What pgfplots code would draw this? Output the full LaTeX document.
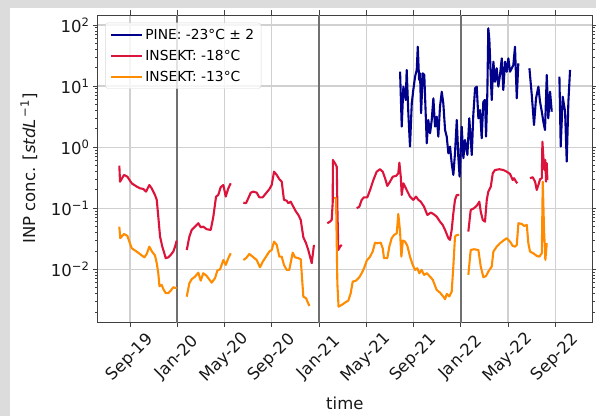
\documentclass[border=0pt]{standalone}
\usepackage{fontspec}
\setmainfont{DejaVu Sans}
\usepackage{pgfplots}
\pgfplotsset{compat=1.18}
\definecolor{pine}{HTML}{00008B}
\definecolor{insa}{HTML}{DC143C}
\definecolor{insb}{HTML}{FF8C00}
\definecolor{bgc}{HTML}{DCDCDC}
\definecolor{gridc}{HTML}{D0D0D0}
\definecolor{janc}{HTML}{707070}
\begin{document}
\begin{tikzpicture}[x=1pt,y=1pt]
\fill[bgc] (0,0) rectangle (596,416);
\fill[white] (10,0) rectangle (596,408);
\useasboundingbox (0,0) rectangle (596,416);
\begin{axis}[
  at={(97.7pt,94pt)}, anchor=south west,
  scale only axis, width=494.3pt, height=307pt,
  ymode=log,
  xmin=5.26, xmax=47.11, ymin=0.00137, ymax=146,
  unbounded coords=jump,
  axis line style={black!75, line width=0.9pt},
  tick align=outside,
  major tick length=4.8pt, minor tick length=2.8pt,
  every tick/.style={black!75, line width=0.8pt},
  xtick={8,12,16,20,24,28,32,36,40,44},
  xticklabels={Sep-19,Jan-20,May-20,Sep-20,Jan-21,May-21,Sep-21,Jan-22,May-22,Sep-22},
  minor xtick={},
  ytick={0.01,0.1,1,10,100},
  yticklabels={10\textsuperscript{−2},10\textsuperscript{−1},10\textsuperscript{0},10\textsuperscript{1},10\textsuperscript{2}},
  minor ytick={0.002,0.003,0.004,0.005,0.006,0.007,0.008,0.009,0.02,0.03,0.04,0.05,0.06,0.07,0.08,0.09,0.2,0.3,0.4,0.5,0.6,0.7,0.8,0.9,2,3,4,5,6,7,8,9,20,30,40,50,60,70,80,90},
  xmajorgrids, ymajorgrids,
  major grid style={gridc, line width=1.3pt},
  tick label style={font=\fontsize{16.5}{19}\selectfont, black!90},
  xticklabel style={anchor=center, yshift=-31pt, rotate=45},
  xlabel={time},
  ylabel={INP conc. [{\itshape stdL}\textsuperscript{\,−1}]},
  every axis x label/.style={at={(axis description cs:0.5,-0.285)}, anchor=base, font=\fontsize{16.5}{19}\selectfont, black!90},
  every axis y label/.style={at={(axis description cs:-0.1268,0.5)}, rotate=90, anchor=base, font=\fontsize{16.5}{19}\selectfont, black!90},
  legend cell align=left,
  legend style={at={(0.015,0.975)}, anchor=north west, draw=black!15, rounded corners=3pt,
    fill=white, fill opacity=0.8, text opacity=1,
    font=\fontsize{13.8}{16}\selectfont, row sep=5.2pt, inner xsep=5pt, inner ysep=4pt},
  legend image code/.code={\draw[#1] (0pt,0pt) -- (31pt,0pt);},
]
\addplot[forget plot, janc, line width=2pt] coordinates {(12,0.0005) (12,500)};
\addplot[forget plot, janc, line width=2pt] coordinates {(24,0.0005) (24,500)};
\addplot[forget plot, janc, line width=2pt] coordinates {(36,0.0005) (36,500)};

\addplot[pine, line width=2.1pt, line join=round] coordinates {
(30.86,17.2) (31.00,2.17) (31.14,9.78) (31.34,5.93) (31.42,18.4) (31.56,3.59) (31.70,1.02) (31.85,5.23) (31.98,8.64) (32.13,14.3) (32.27,18.4) (32.36,44.2) (32.47,12.6) (32.55,16.2) (32.64,3.59) (32.78,16.2) (32.91,15.2) (33.12,1.16) (33.25,2.79) (33.40,1.69) (33.54,2.79) (33.68,6.32) (33.82,2.17) (33.96,3.16) (34.10,1.49) (34.24,4.60) (34.39,8.10) (34.52,5.23) (34.67,1.91) (34.81,1.49) (34.95,0.794) (35.09,1.02) (35.23,0.545) (35.37,0.351) (35.51,0.794) (35.66,2.79) (35.79,0.699) (35.90,0.33) (36.08,2.17) (36.22,0.658) (36.36,1.31) (36.56,0.745) (36.72,2.97) (36.93,0.745) (37.06,3.37) (37.21,9.21) (37.35,9.78) (37.49,2.97) (37.63,4.06) (37.77,1.40) (37.91,5.56) (38.05,5.93) (38.14,1.49) (38.25,8.10) (38.33,88.5) (38.42,56.9) (38.62,5.93) (38.76,25.1) (38.90,11.8) (39.04,19.6) (39.18,9.78) (39.32,15.2) (39.47,28.5) (39.60,8.64) (39.75,25.1) (39.89,17.2) (40.03,28.5) (40.17,17.2) (40.32,19.6) (40.45,22.2) (40.59,44.2) (40.74,6.32) (40.87,23.6) (41.3,nan)
(41.81,19.6) (42.01,7.16) (42.20,2.31) (42.37,6.32) (42.57,9.78) (42.71,5.56) (42.86,3.81) (42.99,2.61) (43.13,1.91) (43.28,15.2) (43.41,2.97) (43.56,8.10) (43.70,3.81) (44.0,nan)
(44.35,14.3) (44.46,1.02) (44.63,6.71) (44.83,3.81) (44.97,0.579) (45.11,5.56) (45.25,18.4)
};
\addlegendentry{PINE: -23°C ± 2}

\addplot[insa, line width=2.1pt, line join=round] coordinates {
(7.09,0.50) (7.15,0.272) (7.49,0.351) (7.77,0.329) (8.14,0.256) (8.56,0.226) (8.84,0.212) (9.12,0.207) (9.35,0.187) (9.63,0.240) (9.83,0.212) (10.11,0.165) (10.26,0.137) (10.39,0.0728) (10.54,0.0343) (10.73,0.0235) (10.90,0.0183) (11.02,0.0152) (11.24,0.0157) (11.44,0.0172) (11.66,0.0195) (11.81,0.0235) (11.95,0.0295) (12.4,nan)
(12.80,0.0207) (13.02,0.0343) (13.22,0.0441) (13.50,0.0499) (13.78,0.0568) (13.98,0.0488) (14.20,0.0499) (14.49,0.0453) (14.83,0.0441) (15.05,0.0728) (15.28,0.155) (15.47,0.165) (15.67,0.221) (15.90,0.240) (16.10,0.155) (16.32,0.212) (16.52,0.256) (17.0,nan)
(17.59,0.123) (17.82,0.121) (18.01,0.146) (18.22,0.180) (18.43,0.187) (18.72,0.180) (18.94,0.151) (19.23,0.151) (19.51,0.176) (19.79,0.205) (19.99,0.240) (20.19,0.397) (20.42,0.351) (20.64,0.298) (20.84,0.272) (21.03,0.137) (21.26,0.133) (21.40,0.121) (21.60,0.128) (21.82,0.106) (22.05,0.0879) (22.25,0.0776) (22.45,0.0643) (22.67,0.0335) (22.90,0.0267) (23.09,0.0207) (23.38,0.0126) (23.57,0.0251) (24.1,nan)
(24.70,0.0568) (24.93,0.0603) (25.07,0.0643) (25.16,0.128) (25.17,0.617) (25.35,0.545) (25.50,0.480) (25.55,0.106) (25.63,0.0207) (25.78,0.0235) (25.92,0.0251) (26.5,nan)
(27.19,0.100) (27.41,0.106) (27.61,0.137) (27.81,0.151) (28.09,0.151) (28.32,0.199) (28.60,0.290) (28.88,0.397) (29.16,0.435) (29.39,0.397) (29.59,0.310) (29.78,0.232) (30.01,0.272) (30.24,0.329) (30.52,0.338) (30.71,0.374) (30.80,0.557) (30.92,0.329) (31.00,0.165) (31.14,0.256) (31.42,0.199) (31.70,0.155) (31.98,0.137) (32.21,0.155) (32.41,0.137) (32.61,0.128) (32.89,0.106) (33.17,0.0776) (33.46,0.0847) (33.68,0.0806) (33.96,0.0728) (34.24,0.0603) (34.47,0.0532) (34.67,0.0441) (34.95,0.0323) (35.09,0.0303) (35.23,0.0441) (35.37,0.0828) (35.51,0.137) (35.66,0.165) (35.88,0.165) (36.2,nan)
(36.64,0.0414) (36.84,0.0937) (37.12,0.100) (37.40,0.113) (37.57,0.128) (37.69,0.0879) (37.86,0.0643) (38.05,0.0603) (38.20,0.137) (38.33,0.187) (38.54,0.226) (38.71,0.374) (38.90,0.423) (39.27,0.435) (39.60,0.423) (39.89,0.397) (40.17,0.364) (40.40,0.290) (40.51,0.310) (40.68,0.272) (40.79,0.256) (41.3,nan)
(41.86,0.310) (42.09,0.322) (42.29,0.272) (42.43,0.199) (42.57,0.240) (42.71,0.298) (42.86,0.310) (42.91,1.23) (42.99,0.699) (43.08,0.423) (43.16,0.617) (43.22,0.272) (43.28,0.545) (43.33,0.290)
};
\addlegendentry{INSEKT: -18°C}

\addplot[insb, line width=2.1pt, line join=round] coordinates {
(7.09,0.0499) (7.17,0.0323) (7.49,0.0379) (7.77,0.0352) (8.14,0.0221) (8.56,0.0195) (8.93,0.0172) (9.21,0.0157) (9.41,0.0178) (9.63,0.0235) (9.86,0.0195) (10.11,0.0169) (10.26,0.0126) (10.39,0.00862) (10.49,0.00528) (10.68,0.00554) (10.81,0.00477) (11.02,0.00406) (11.24,0.00406) (11.44,0.00447) (11.66,0.00508) (11.95,0.00490) (12.4,nan)
(12.80,0.00357) (13.02,0.00591) (13.22,0.00688) (13.50,0.00759) (13.78,0.00881) (13.98,0.00652) (14.20,0.00862) (14.49,0.00778) (14.91,0.00605) (15.19,0.00714) (15.39,0.00951) (15.62,0.0100) (15.90,0.0142) (16.10,0.0118) (16.32,0.0152) (16.52,0.0183) (17.0,nan)
(17.59,0.0142) (17.82,0.0152) (18.10,0.0178) (18.38,0.0161) (18.72,0.0142) (19.00,0.0108) (19.23,0.0133) (19.51,0.0161) (19.79,0.0195) (19.99,0.0207) (20.19,0.0284) (20.42,0.0251) (20.64,0.0161) (20.84,0.0161) (21.03,0.0118) (21.26,0.00977) (21.48,0.00977) (21.77,0.0187) (21.97,0.0157) (22.25,0.0152) (22.45,0.0146) (22.67,0.00357) (22.90,0.00336) (23.18,0.00251) (24.1,nan)
(25.27,0.146) (25.44,0.146) (25.55,0.00591) (25.65,0.00245) (25.92,0.00261) (26.20,0.00285) (26.48,0.00307) (26.68,0.00406) (26.85,0.00628) (27.13,0.00652) (27.41,0.00741) (27.61,0.00862) (27.81,0.0104) (28.04,0.0139) (28.32,0.0161) (28.54,0.0195) (28.74,0.0273) (28.93,0.0267) (29.22,0.0273) (29.39,0.0221) (29.50,0.0152) (29.78,0.0152) (29.95,0.0235) (30.15,0.0323) (30.35,0.0365) (30.58,0.0389) (30.71,0.0806) (30.86,0.0414) (30.97,0.0161) (31.09,0.0295) (31.28,0.0284) (31.48,0.0241) (31.70,0.0161) (31.93,0.0118) (32.13,0.00977) (32.32,0.0104) (32.49,0.00862) (32.69,0.00977) (32.89,0.00809) (33.12,0.00862) (33.40,0.00759) (33.63,0.00670) (33.96,0.00459) (34.24,0.00415) (34.52,0.00357) (34.67,0.00324) (34.81,0.00395) (35.03,0.00360) (35.23,0.00431) (35.37,0.0111) (35.51,0.0343) (35.66,0.0365) (35.85,0.0365) (36.2,nan)
(36.64,0.00809) (36.84,0.0207) (37.12,0.0213) (37.49,0.0207) (37.69,0.0111) (37.91,0.00741) (38.14,0.00778) (38.33,0.00916) (38.62,0.0111) (38.76,0.0195) (39.04,0.0235) (39.32,0.0267) (39.60,0.0295) (39.89,0.0323) (40.17,0.0284) (40.40,0.0241) (40.60,0.0235) (40.74,0.0251) (40.88,0.0568) (41.16,0.0553) (41.36,0.0513) (41.59,0.0532) (41.72,0.0267) (41.86,0.0195) (42.14,0.0183) (42.43,0.0166) (42.65,0.0161) (42.86,0.0183) (42.94,0.272) (43.05,0.0441) (43.16,0.0142) (43.28,0.0267)
};
\addlegendentry{INSEKT: -13°C}
\end{axis}
\end{tikzpicture}
\end{document}
